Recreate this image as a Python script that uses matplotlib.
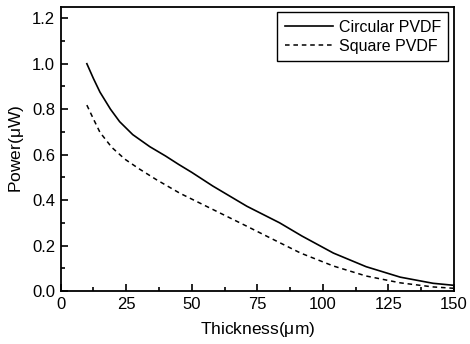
import matplotlib
matplotlib.use('Agg')
import matplotlib.pyplot as plt
from matplotlib.ticker import MultipleLocator

plt.rcParams['font.family'] = ['Liberation Sans', 'DejaVu Sans']
plt.rcParams['mathtext.fontset'] = 'custom'
plt.rcParams['mathtext.rm'] = 'Liberation Sans'
plt.rcParams['mathtext.it'] = 'Liberation Sans'

# values
thickness_circ = [10, 12.5, 15, 19, 22.5, 27.5, 34, 40, 45, 50, 58, 71, 83.5, 92, 104, 116.5, 129.5, 142, 150]
power_circ = [1.0, 0.935, 0.875, 0.80, 0.745, 0.688, 0.635, 0.594, 0.557, 0.522, 0.462, 0.373, 0.30, 0.242,
              0.167, 0.107, 0.061, 0.034, 0.025]

thickness_sq = [10, 12.5, 15, 19.5, 24.5, 30, 36.5, 45.5, 58, 71, 80, 91.5, 104, 116.5, 129.5, 142, 150]
power_sq = [0.818, 0.757, 0.698, 0.632, 0.58, 0.537, 0.49, 0.43, 0.359, 0.285, 0.233, 0.167, 0.11, 0.066,
            0.036, 0.018, 0.012]

fig = plt.figure(figsize=(4.7, 3.44), dpi=100)
ax = fig.add_axes([0.129, 0.154, 0.837, 0.826])

ax.plot(thickness_circ, power_circ, c='black', linewidth=1.2, label='Circular PVDF')
ax.plot(thickness_sq, power_sq, c='black', linewidth=1.1, linestyle=(0, (3, 2.5)), label='Square PVDF')

ax.set_xlim(0, 150)
ax.set_ylim(0, 1.25)
ax.xaxis.set_major_locator(MultipleLocator(25))
ax.xaxis.set_minor_locator(MultipleLocator(12.5))
ax.yaxis.set_major_locator(MultipleLocator(0.2))
ax.yaxis.set_minor_locator(MultipleLocator(0.1))
ax.yaxis.set_major_formatter(plt.FormatStrFormatter('%.1f'))
ax.tick_params(which='both', direction='in', top=False, right=False, labelsize=12, width=1.2)
ax.tick_params(which='major', length=5, pad=4)
ax.tick_params(which='minor', length=3)
for s in ax.spines.values():
    s.set_linewidth(1.3)

ax.set_xlabel(r'Thickness($\mu$m)', fontsize=12.5, labelpad=6)
ax.set_ylabel(r'Power($\mu$W)', fontsize=12.5, labelpad=4)

leg = ax.legend(loc='upper right', fancybox=False, edgecolor='black', fontsize=11.5,
                handlelength=3.0, handletextpad=0.4, borderaxespad=0.35, labelspacing=0.25,
                borderpad=0.45, framealpha=1)
leg.get_frame().set_linewidth(1.0)

plt.savefig('out.png', dpi=100)
